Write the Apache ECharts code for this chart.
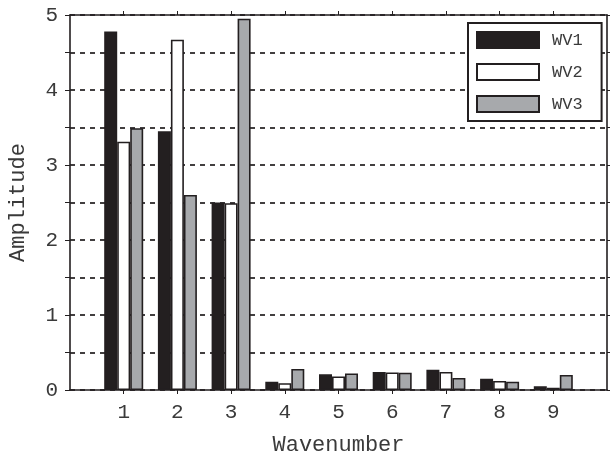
<!DOCTYPE html>
<html>
<head>
<meta charset="utf-8">
<script src="https://cdn.jsdelivr.net/npm/echarts@6/dist/echarts.min.js"></script>
<style>
  html, body { margin: 0; padding: 0; background: #fff; }
  #chart { width: 610px; height: 453px; }
</style>
</head>
<body>
<div id="chart"></div>
<script>
// Wavenumber categories and amplitudes of the three waves
const wavenumbers = ['1', '2', '3', '4', '5', '6', '7', '8', '9'];
const wv1 = [4.78, 3.45, 2.50, 0.11, 0.21, 0.24, 0.27, 0.15, 0.05];
const wv2 = [3.31, 4.67, 2.49, 0.09, 0.18, 0.235, 0.24, 0.12, 0.03];
const wv3 = [3.49, 2.60, 4.95, 0.28, 0.22, 0.23, 0.16, 0.11, 0.20];
const yTicks = [0, 1, 2, 3, 4, 5];

// Axis runs from 0 to 10, so pad the categories with empty slots at both ends
const axisCats = [''].concat(wavenumbers, ['']);
const pad = arr => [null].concat(arr, [null]);

const FONT = 'Liberation Mono';
const INK = '#231f20';
const TXT = '#3a3a3a';

const chart = echarts.init(document.getElementById('chart'), null, { renderer: 'canvas' });

const innerTick = (idx) => idx > 0 && idx < axisCats.length - 1;

const xBase = {
  type: 'category',
  data: axisCats,
  boundaryGap: false,
  axisLine: { show: true, onZero: false, lineStyle: { color: INK, width: 1.6 } },
  axisTick: { show: true, inside: false, length: 4, interval: innerTick, lineStyle: { color: INK, width: 1 } },
  splitLine: { show: false }
};

const yBase = {
  type: 'value',
  min: 0,
  max: 5,
  interval: 0.5,
  axisLine: { show: true, lineStyle: { color: INK, width: 1.6 } },
  axisTick: { show: true, inside: false, length: 5, lineStyle: { color: INK, width: 1 } }
};

const barStyle = (fill) => ({ color: fill, borderColor: INK, borderWidth: 1.6 });

chart.setOption({
  animation: false,
  backgroundColor: '#fff',
  grid: { left: 70, right: 3, top: 15, bottom: 63, containLabel: false, outerBoundsMode: 'none' },
  legend: {
    orient: 'vertical',
    left: 468,
    top: 23,
    padding: [8, 19, 8, 8],
    itemWidth: 62,
    itemHeight: 16,
    itemGap: 14,
    borderColor: INK,
    borderWidth: 2,
    backgroundColor: '#fff',
    icon: 'rect',
    textStyle: { fontFamily: FONT, fontSize: 17, color: TXT, padding: [0, 0, 0, 8], lineHeight: 16 },
    data: ['WV1', 'WV2', 'WV3']
  },
  xAxis: [
    Object.assign({}, xBase, {
      position: 'bottom',
      name: 'Wavenumber',
      nameLocation: 'middle',
      nameGap: 44,
      nameTextStyle: { fontFamily: FONT, fontSize: 22, color: TXT },
      axisLabel: { show: true, margin: 12, fontFamily: FONT, fontSize: 21, color: TXT, interval: 0 }
    }),
    Object.assign({}, xBase, {
      position: 'top',
      axisLabel: { show: false }
    })
  ],
  yAxis: [
    Object.assign({}, yBase, {
      position: 'left',
      name: 'Amplitude',
      nameLocation: 'middle',
      nameGap: 41,
      nameRotate: 90,
      nameTextStyle: { fontFamily: FONT, fontSize: 22, color: TXT },
      axisLabel: {
        show: true, margin: 12, fontFamily: FONT, fontSize: 21, color: TXT,
        formatter: v => (yTicks.indexOf(v) >= 0 ? String(v) : '')
      },
      splitLine: { show: true, lineStyle: { color: INK, width: 1.7, type: [5, 5] } }
    }),
    Object.assign({}, yBase, {
      position: 'right',
      axisLabel: { show: false },
      splitLine: { show: false }
    })
  ],
  series: [
    { name: 'WV1', type: 'bar', data: pad(wv1), barWidth: 13, barGap: '0%', itemStyle: barStyle(INK) },
    { name: 'WV2', type: 'bar', data: pad(wv2), barWidth: 13, barGap: '0%', itemStyle: barStyle('#ffffff') },
    { name: 'WV3', type: 'bar', data: pad(wv3), barWidth: 13, barGap: '0%', itemStyle: barStyle('#a7a9ac') }
  ]
});
</script>
</body>
</html>
